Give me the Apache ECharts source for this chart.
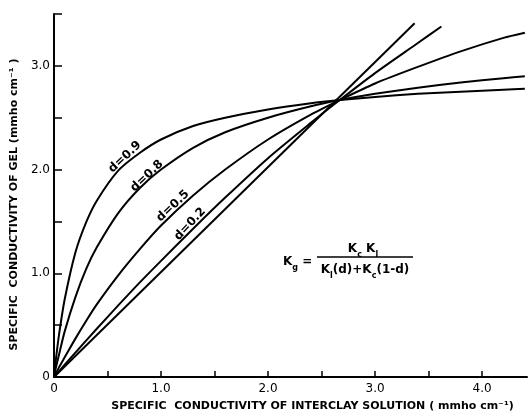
<!DOCTYPE html>
<html>
<head>
<meta charset="utf-8">
<title>Specific conductivity of gel</title>
<script src="https://cdn.jsdelivr.net/npm/echarts@6/dist/echarts.min.js"></script>
<style>
  html, body { margin: 0; padding: 0; background: #fff; }
  #main { width: 529px; height: 417px; }
</style>
</head>
<body>
<div id="main"></div>
<script>
// interclay solution conductivity K1 (x)
var kl = [0, 0.02, 0.05, 0.1, 0.2, 0.3, 0.4, 0.6, 0.8, 1.0, 1.3, 1.6, 2.0, 2.4, 2.67, 3.0, 3.4, 3.8, 4.2, 4.4];
// gel conductivity Kg (y) per curve
var kgD09 = [0, 0.19, 0.43, 0.75, 1.20, 1.49, 1.70, 1.99, 2.16, 2.29, 2.42, 2.50, 2.58, 2.64, 2.67, 2.70, 2.73, 2.75, 2.77, 2.78];
var kgD08 = [0, 0.10, 0.23, 0.44, 0.77, 1.04, 1.25, 1.58, 1.82, 2.00, 2.21, 2.36, 2.50, 2.61, 2.67, 2.73, 2.79, 2.84, 2.88, 2.90];
var kgD05 = [0, 0.04, 0.10, 0.19, 0.37, 0.54, 0.70, 0.98, 1.23, 1.46, 1.75, 2.00, 2.29, 2.53, 2.67, 2.83, 2.99, 3.14, 3.27, 3.32];
// d = 0.2 stops at the top of the frame
var klD02 = [0, 0.1, 0.2, 0.4, 0.6, 0.8, 1.0, 1.3, 1.6, 2.0, 2.4, 2.67, 3.0, 3.4, 3.62];
var kgD02 = [0, 0.118, 0.235, 0.465, 0.69, 0.91, 1.12, 1.43, 1.73, 2.11, 2.45, 2.67, 2.93, 3.22, 3.38];
// straight line
var klLine = [0, 3.37];
var kgLine = [0, 3.41];

var curveLabels = ['d=0.9', 'd=0.8', 'd=0.5', 'd=0.2'];

function pairs(xs, ys) {
  var out = [];
  for (var i = 0; i < xs.length; i++) out.push([xs[i], ys[i]]);
  return out;
}

function curve(data) {
  return {
    type: 'line',
    data: data,
    showSymbol: false,
    smooth: 0.25,
    lineStyle: { color: '#000', width: 2 },
    silent: true,
    animation: false
  };
}

var FONT = 'DejaVu Sans';
var chart = echarts.init(document.getElementById('main'), null, { renderer: 'canvas' });

function tickLabel(v) {
  if (v === 0) return '0';
  if (Math.abs(v - Math.round(v)) < 1e-6) return v.toFixed(1);
  return '';
}

var labelPos = [[125, 157], [147, 176], [173, 206], [190, 224]];
var labelRot = [43, 43, 43, 47];
var labelEls = curveLabels.map(function (t, i) {
  return {
    type: 'text',
    x: labelPos[i][0], y: labelPos[i][1],
    rotation: labelRot[i] * Math.PI / 180,
    style: {
      text: t, fill: '#000', font: 'bold 12px "' + FONT + '"',
      textAlign: 'center', textVerticalAlign: 'middle'
    }
  };
});

var rich = {
  m: { fontFamily: FONT, fontWeight: 'bold', fontSize: 12, lineHeight: 14, color: '#000' },
  s: { fontFamily: FONT, fontWeight: 'bold', fontSize: 8, lineHeight: 8, color: '#000', verticalAlign: 'bottom', padding: [0, 0, -3, 0] }
};

var formulaEls = [
  { type: 'text', x: 283, y: 262, style: { text: '{m|K}{s|g}{m| =}', rich: rich, textVerticalAlign: 'middle' } },
  { type: 'text', x: 363, y: 249, style: { text: '{m|K}{s|c}{m| K}{s|l}', rich: rich, textAlign: 'center', textVerticalAlign: 'middle' } },
  { type: 'line', shape: { x1: 317, y1: 257, x2: 413, y2: 257 }, style: { stroke: '#000', lineWidth: 1.5 } },
  { type: 'text', x: 365, y: 270, style: { text: '{m|K}{s|l}{m|(d)+K}{s|c}{m|(1-d)}', rich: rich, textAlign: 'center', textVerticalAlign: 'middle' } }
];

chart.setOption({
  animation: false,
  backgroundColor: '#fff',
  grid: { left: 54, right: 2, top: 14, bottom: 37, containLabel: false },
  xAxis: {
    type: 'value', min: 0, max: 4.42, interval: 0.5,
    name: 'SPECIFIC  CONDUCTIVITY OF INTERCLAY SOLUTION ( mmho cm\u207B\u00B9)',
    nameLocation: 'middle', nameGap: 24,
    nameTextStyle: { fontFamily: FONT, fontWeight: 'bold', fontSize: 11, color: '#000', padding: [0, 0, 0, 44] },
    axisLine: { lineStyle: { color: '#000', width: 2 } },
    axisTick: { inside: true, length: 6, lineStyle: { color: '#000', width: 1.5 } },
    axisLabel: { formatter: tickLabel, color: '#000', fontFamily: FONT, fontSize: 12, margin: 6, showMaxLabel: false },
    splitLine: { show: false }
  },
  yAxis: {
    type: 'value', min: 0, max: 3.5, interval: 0.5,
    name: 'SPECIFIC  CONDUCTIVITY OF GEL (mmho cm\u207B\u00B9 )',
    nameLocation: 'middle', nameGap: 34,
    nameTextStyle: { fontFamily: FONT, fontWeight: 'bold', fontSize: 11, color: '#000', padding: [0, 18, 0, 0] },
    axisLine: { lineStyle: { color: '#000', width: 2 } },
    axisTick: { inside: true, length: 8, lineStyle: { color: '#000', width: 1.5 } },
    axisLabel: { formatter: tickLabel, color: '#000', fontFamily: FONT, fontSize: 12, margin: 4 },
    splitLine: { show: false }
  },
  series: [
    curve(pairs(kl, kgD09)),
    curve(pairs(kl, kgD08)),
    curve(pairs(kl, kgD05)),
    curve(pairs(klD02, kgD02)),
    curve(pairs(klLine, kgLine))
  ],
  graphic: labelEls.concat(formulaEls)
});
</script>
</body>
</html>
